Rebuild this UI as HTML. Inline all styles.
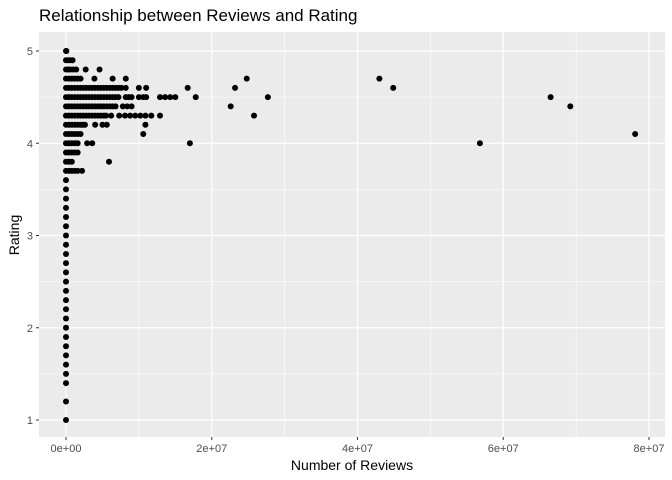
<!DOCTYPE html>
<html><head><meta charset="utf-8"><style>
html,body{margin:0;padding:0;background:#fff;}
svg{display:block;font-family:"Liberation Sans",sans-serif;}
</style></head><body>
<svg id="chart" width="672" height="480">
<text x="39" y="21" font-size="17" fill="#000">Relationship between Reviews and Rating</text>
<rect x="39" y="32" width="626" height="405" fill="#ebebeb"/>
<g id="grid"></g><g id="pts"></g><g id="axes"></g>
<text x="352" y="470" font-size="14" text-anchor="middle" fill="#000">Number of Reviews</text>
<text transform="translate(19,235) rotate(-90)" font-size="14" text-anchor="middle" fill="#000">Rating</text>
</svg>
<script>
const xTicks=[0,20,40,60,80];
const xTickLabels=["0e+00","2e+07","4e+07","6e+07","8e+07"];
const yTicks=[1,2,3,4,5];
const ratingRows=[5.0,4.9,4.8,4.7,4.6,4.5,4.4,4.3,4.2,4.1,4.0,3.9,3.8,3.7];
const reviewsRows=[
[0,0.05],
[0,0.3,0.6,0.9],
[0,0.3,0.6,1.0,1.4,2.7,4.6],
[0,0.4,0.8,1.2,1.6,2.0,3.9,6.4,8.2,43.0,24.8],
[0,0.4,0.8,1.2,1.6,2.0,2.4,2.8,3.2,3.6,4.0,4.4,4.8,5.2,5.6,6.0,6.4,6.8,7.2,7.6,8.2,10.0,11.0,16.7,23.2,44.9],
[0,0.4,0.8,1.2,1.6,2.0,2.4,2.8,3.2,3.6,4.0,4.4,4.8,5.2,5.6,6.0,6.4,6.8,7.2,8.2,8.6,9.0,10.0,10.6,11.0,12.9,13.6,14.3,15.0,17.8,27.7,66.5],
[0,0.4,0.8,1.2,1.6,2.0,2.4,2.8,3.2,3.6,4.0,4.4,4.8,5.2,5.6,6.0,6.4,6.8,7.8,8.4,9.0,22.6,69.2],
[0,0.4,0.8,1.2,1.6,2.0,2.4,2.8,3.2,3.6,4.0,4.4,4.8,5.2,5.5,6.2,7.3,8.1,8.8,9.5,10.2,10.9,11.7,12.9,25.8],
[0,0.4,0.8,1.2,1.6,2.0,2.3,2.6,4.0,5.0,5.6,10.9],
[0,0.4,0.8,1.2,1.6,2.0,10.6,78.1],
[0,0.4,0.8,1.2,1.6,2.9,3.6,17.0,56.8],
[0,0.4,0.8,1.2,1.6],
[0,0.4,0.8,5.9],
[0,0.4,0.8,1.2,1.6,2.2]
];
const lowRatings=[3.6,3.5,3.4,3.3,3.2,3.1,3.0,2.9,2.8,2.7,2.6,2.5,2.4,2.3,2.2,2.1,2.0,1.9,1.8,1.7,1.6,1.5,1.4,1.2,1.0];
const NS="http://www.w3.org/2000/svg";
const sx=v=>66+v*(583/80);
const sy=v=>420-(v-1)*92.25;
function mk(tag,attrs,parent){const e=document.createElementNS(NS,tag);for(const k in attrs)e.setAttribute(k,attrs[k]);parent.appendChild(e);return e;}
const grid=document.getElementById('grid'),pts=document.getElementById('pts'),axes=document.getElementById('axes');
for(let i=0;i<xTicks.length-1;i++){const m=(xTicks[i]+xTicks[i+1])/2;
 const l=mk('line',{x1:sx(m),x2:sx(m),y1:32,y2:437,stroke:'#fff','stroke-width':0.6},grid);
 
 }
for(let i=0;i<yTicks.length-1;i++){const m=(yTicks[i]+yTicks[i+1])/2;
 const l=mk('line',{x1:39,x2:665,y1:sy(m),y2:sy(m),stroke:'#fff','stroke-width':0.6},grid);
 
 }
xTicks.forEach((t,i)=>{
 const l=mk('line',{x1:sx(t),x2:sx(t),y1:32,y2:437,stroke:'#fff','stroke-width':1.2},grid);
 
 
 const tk=mk('line',{x1:sx(t),x2:sx(t),y1:437,y2:440,stroke:'#333','stroke-width':1},axes);
 
 
 const tx=mk('text',{x:sx(t),y:452,'font-size':11,'text-anchor':'middle',fill:'#4d4d4d'},axes);
 tx.textContent=xTickLabels[i];
 
 
});
yTicks.forEach(t=>{
 const l=mk('line',{x1:39,x2:665,y1:sy(t),y2:sy(t),stroke:'#fff','stroke-width':1.2},grid);
 
 
 const tk=mk('line',{x1:36,x2:39,y1:sy(t),y2:sy(t),stroke:'#333','stroke-width':1},axes);
 
 
 const tx=mk('text',{x:33,y:sy(t)+4,'font-size':11,'text-anchor':'end',fill:'#4d4d4d'},axes);
 tx.textContent=t;
 
 
});
function dot(x,r){const c=mk('circle',{cx:sx(x),cy:sy(r),r:3,fill:'#000'},pts);
 
 }
ratingRows.forEach((r,i)=>reviewsRows[i].forEach(x=>dot(x,r)));
lowRatings.forEach(r=>dot(0,r));
</script>
</body></html>
